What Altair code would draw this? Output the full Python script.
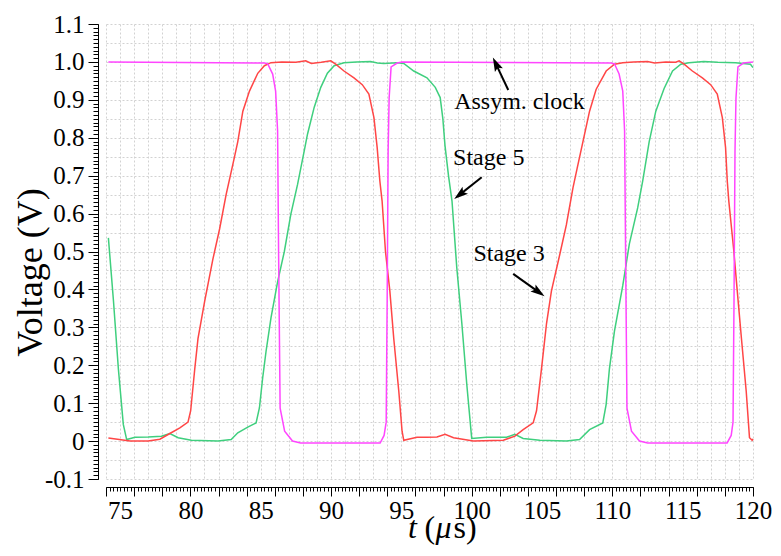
import altair as alt
import pandas as pd

# ---------------- data ----------------
clock_t = [74.17, 85.28, 85.50, 85.85, 86.06, 86.20, 86.27, 86.38, 86.70, 87.26, 87.83,
           93.49, 93.77, 93.92, 93.99, 94.06, 94.13, 94.27, 94.70, 95.05,
           109.91, 110.15, 110.48, 110.74, 110.87, 110.94, 111.04, 111.36, 111.93, 112.51,
           118.16, 118.45, 118.58, 118.65, 118.72, 118.79, 118.93, 119.32, 120.0]
clock_v = [1.0, 0.997, 0.995, 0.968, 0.923, 0.818, 0.5, 0.087, 0.026, 0.0, -0.005,
           -0.005, 0.015, 0.05, 0.37, 0.765, 0.905, 0.987, 0.997, 1.0,
           0.997, 0.995, 0.968, 0.923, 0.818, 0.5, 0.087, 0.026, 0.0, -0.005,
           -0.005, 0.015, 0.05, 0.37, 0.765, 0.905, 0.987, 0.997, 1.0]

stage3_t = [74.17, 75.71, 77.0, 77.83, 78.54, 79.25, 79.83, 80.02, 80.31, 80.54, 81.02, 81.60,
            82.08, 82.54, 82.90, 83.14, 83.37, 83.73, 84.20, 84.79, 85.26, 85.73, 86.5, 87.5,
            88.2, 88.6, 89.3, 89.98, 90.33, 90.92, 91.63, 92.22, 92.69, 93.05, 93.28, 93.47,
            93.63, 93.87, 94.18, 94.46, 94.82, 95.05, 95.17, 96.11, 96.82, 97.53, 98.11, 98.71,
            100.12, 102.25, 103.07, 103.66, 104.37, 104.61, 104.96, 105.32, 105.67, 106.25,
            106.73, 107.20, 107.5, 107.91, 108.38, 108.85, 109.56, 110.15, 110.74, 111.5, 112.5,
            113.0, 113.8, 114.51, 114.75, 115.10, 115.69, 116.40, 116.99, 117.46, 117.82, 118.05,
            118.17, 118.28, 118.64, 118.88, 119.18, 119.52, 119.75, 119.94, 120.0]
stage3_v = [0.008, 0.0, 0.0, 0.005, 0.02, 0.035, 0.05, 0.08, 0.19, 0.27, 0.37, 0.48,
            0.56, 0.65, 0.71, 0.75, 0.79, 0.87, 0.923, 0.97, 0.99, 0.998, 1.0, 0.999,
            1.003, 0.996, 0.999, 1.003, 0.994, 0.976, 0.958, 0.94, 0.915, 0.853, 0.774, 0.686,
            0.633, 0.5, 0.396, 0.27, 0.13, 0.026, 0.002, 0.01, 0.01, 0.011, 0.018, 0.009,
            0.0, 0.002, 0.013, 0.03, 0.048, 0.08, 0.19, 0.31, 0.396, 0.49,
            0.57, 0.668, 0.72, 0.79, 0.87, 0.928, 0.976, 0.994, 0.998, 1.0, 1.001,
            0.997, 1.0, 0.999, 1.003, 0.994, 0.976, 0.958, 0.94, 0.915, 0.853, 0.774,
            0.686, 0.633, 0.5, 0.396, 0.27, 0.13, 0.009, 0.002, 0.006]

stage5_t = [74.17, 74.53, 74.88, 75.23, 75.47, 76.06, 77.0, 77.94, 78.54, 79.13, 80.07, 81.96,
            82.90, 83.37, 84.08, 84.67, 84.91, 85.14, 85.38, 85.73, 86.20, 86.68, 87.14, 87.62,
            88.09, 88.33, 88.80, 89.27, 89.74, 90.22, 90.92, 91.8, 92.81, 93.3, 93.75, 94.70,
            95.17, 95.88, 96.82, 97.41, 97.76, 97.95, 98.1, 98.35, 98.6, 98.94, 99.30, 99.65,
            100.0, 101.06, 102.48, 103.07, 103.66, 104.84, 106.73, 107.67, 108.38, 109.32,
            109.56, 109.79, 110.15, 110.74, 111.21, 111.80, 112.16, 112.62, 113.09, 113.68,
            114.28, 114.87, 115.45, 116.5, 117.5, 118.76, 119.82, 120.0]
stage5_v = [0.536, 0.37, 0.19, 0.044, 0.004, 0.01, 0.011, 0.013, 0.02, 0.009, 0.002, 0.0,
            0.004, 0.022, 0.037, 0.048, 0.088, 0.167, 0.237, 0.325, 0.42, 0.5, 0.598, 0.677,
            0.765, 0.81, 0.88, 0.933, 0.97, 0.99, 0.998, 1.0, 1.001, 0.997, 0.996, 0.998,
            0.996, 0.976, 0.958, 0.933, 0.906, 0.85, 0.78, 0.70, 0.633, 0.457, 0.31, 0.15,
            0.007, 0.01, 0.01, 0.018, 0.007, 0.002, 0.0, 0.004, 0.03, 0.048,
            0.097, 0.19, 0.29, 0.41, 0.52, 0.615, 0.686, 0.79, 0.87, 0.93,
            0.976, 0.994, 0.998, 1.001, 0.999, 0.998, 0.994, 0.985]

series_names = ["Stage 5", "Stage 3", "Assym. clock"]
series_colors = ["#3fcf7e", "#ff4646", "#ff45ff"]

# annotations
label_text = ["Assym. clock", "Stage 5", "Stage 3"]
label_t = [103.40, 101.21, 102.66]
label_v = [0.894, 0.746, 0.493]
arrow_tail_t = [102.60, 100.71, 102.95]
arrow_tail_v = [0.926, 0.696, 0.441]
arrow_head_t = [101.72, 99.15, 104.77]
arrow_head_v = [0.995, 0.650, 0.393]
arrow_angle = [334.7, 231.4, 125.3]

x_label_values = [75, 80, 85, 90, 95, 100, 105, 110, 115, 120]
y_label_values = [-0.1, 0.0, 0.1, 0.2, 0.3, 0.4, 0.5, 0.6, 0.7, 0.8, 0.9, 1.0, 1.1]

# ---------------- tables ----------------
lines = pd.concat([
    pd.DataFrame({"t": stage5_t, "v": stage5_v, "series": "Stage 5"}),
    pd.DataFrame({"t": stage3_t, "v": stage3_v, "series": "Stage 3"}),
    pd.DataFrame({"t": clock_t, "v": clock_v, "series": "Assym. clock"}),
], ignore_index=True)
labels_df = pd.DataFrame({"label": label_text, "lt": label_t, "lv": label_v})
arrows_df = pd.DataFrame({"tt": arrow_tail_t, "tv": arrow_tail_v,
                          "ht": arrow_head_t, "hv": arrow_head_v, "ang": arrow_angle})

FONT = "Liberation Serif, Times New Roman, serif"
xs = alt.Scale(domain=[74, 120], nice=False, zero=False)
ys = alt.Scale(domain=[-0.1, 1.1], nice=False, zero=False)

grid_x_vals = list(range(74, 121))
grid_y_vals = [round(-0.1 + 0.05 * i, 2) for i in range(25)]
minor_y_vals = [round(-0.1 + 0.01 * i, 2) for i in range(121)]
major_x_tick_vals = list(range(74, 121, 2))
minor_x_vals = [74 + 0.25 * i for i in range(185)]

GRID = dict(grid=True, gridColor="#d2d2d2", gridDash=[2, 2], gridWidth=1,
            labels=False, ticks=False, domain=False, title=None)

x_grid = alt.Axis(orient="bottom", values=grid_x_vals, **GRID)
y_grid = alt.Axis(orient="left", values=grid_y_vals, **GRID)

x_labels = alt.Axis(orient="bottom", values=x_label_values, ticks=False, domain=False, grid=False,
                    offset=8, labelFont=FONT, labelFontSize=25, labelColor="black",
                    labelPadding=11, labelFlush=False, labelOverlap=False, title=None)
y_major = alt.Axis(orient="left", values=y_label_values, ticks=True, tickSize=10, tickColor="black",
                   domain=True, domainColor="black", grid=False, offset=8,
                   labelFont=FONT, labelFontSize=25, labelColor="black", labelPadding=4,
                   labelFlush=False, labelOverlap=False,
                   labelExpr="abs(datum.value) < 1e-9 ? '0' : (datum.value < 0 ? '-' + format(-datum.value, '.1f') : format(datum.value, '.1f'))",
                   title="Voltage (V)", titleFont=FONT, titleFontSize=36, titleFontWeight="normal",
                   titleColor="black", titleX=-49, titleY=248, titleAngle=270,
                   titleBaseline="bottom", titleAlign="center")
x_major = alt.Axis(orient="bottom", values=major_x_tick_vals, ticks=True, tickSize=9, tickColor="black",
                   labels=False, domain=True, domainColor="black", grid=False, offset=8, title=None)
y_minor = alt.Axis(orient="left", values=minor_y_vals, ticks=True, tickSize=5, tickColor="black",
                   labels=False, domain=False, grid=False, offset=8, title=None)
x_minor = alt.Axis(orient="bottom", values=minor_x_vals, ticks=True, tickSize=4, tickColor="black",
                   labels=False, domain=False, grid=False, offset=8, title=None)

line_layer = alt.Chart(lines).mark_line(strokeWidth=1.5).encode(
    x=alt.X("t:Q", scale=xs, axis=x_grid),
    y=alt.Y("v:Q", scale=ys, axis=y_grid),
    color=alt.Color("series:N", scale=alt.Scale(domain=series_names, range=series_colors), legend=None),
)

text_layer = alt.Chart(labels_df).mark_text(font=FONT, fontSize=24, color="black").encode(
    x=alt.X("lt:Q", scale=xs, axis=x_labels),
    y=alt.Y("lv:Q", scale=ys, axis=y_major),
    text="label:N",
)

arrow_lines = alt.Chart(arrows_df).mark_rule(strokeWidth=2, color="black").encode(
    x=alt.X("tt:Q", scale=xs, axis=x_major),
    y=alt.Y("tv:Q", scale=ys, axis=y_minor),
    x2="ht:Q",
    y2="hv:Q",
)

arrow_heads = alt.Chart(arrows_df).mark_point(
    shape="M0,-1L0.62,1L0,0.6L-0.62,1Z", filled=True, size=200, color="black", opacity=1, strokeWidth=0
).encode(
    x=alt.X("ht:Q", scale=xs, axis=x_minor),
    y=alt.Y("hv:Q", scale=ys, axis=None),
    angle=alt.Angle("ang:Q", scale=None),
)

one = pd.DataFrame({"k": [0]})
def title_piece(txt, px, italic):
    return alt.Chart(one).mark_text(text=txt, font=FONT, fontSize=32, color="black", align="left",
                                    baseline="alphabetic",
                                    fontStyle="italic" if italic else "normal").encode(
        x=alt.value(px), y=alt.value(514))

xt1 = title_piece("t", 302.0, True)
xt2 = title_piece("(", 318.5, False)
xt3 = title_piece("\u03bc", 329.5, True)
xt4 = title_piece("s)", 347.5, False)

chart = alt.layer(line_layer, text_layer, arrow_lines, arrow_heads, xt1, xt2, xt3, xt4).resolve_axis(
    x="independent", y="independent"
).properties(
    width=647, height=455,
    padding={"left": 98, "top": 16, "right": 19, "bottom": 67},
    autosize=alt.AutoSizeParams(type="none"),
    background="white",
).configure(font=FONT).configure_axis(labelFont=FONT, titleFont=FONT).configure_view(stroke=None)

chart.save("out.html", embed_options={"renderer": "svg", "actions": False})
